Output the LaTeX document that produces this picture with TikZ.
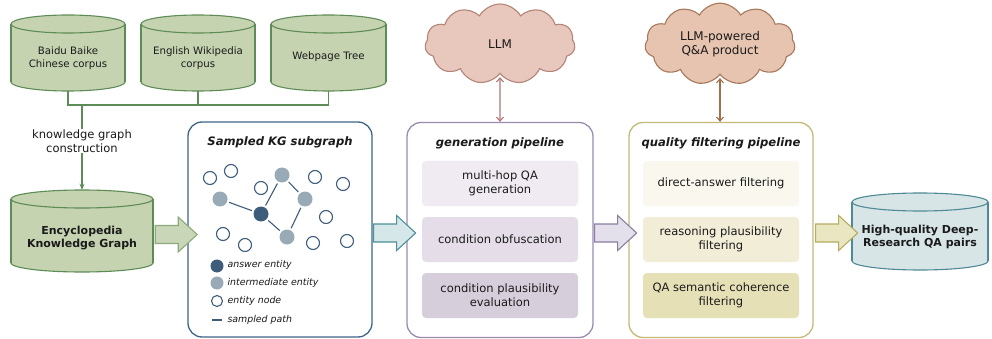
\documentclass[tikz,border=0pt]{standalone}
\usepackage{fontspec}
\setmainfont{DejaVu Sans}
\usetikzlibrary{shapes.symbols,arrows.meta,calc}
\definecolor{cylfill}{HTML}{C6D3B1}
\definecolor{cyldraw}{HTML}{5E8C56}
\definecolor{kgarrf}{HTML}{C9D6B8}
\definecolor{kgarrd}{HTML}{8DAA7C}
\definecolor{subdraw}{HTML}{3F6585}
\definecolor{tealf}{HTML}{D5E7E9}
\definecolor{teald}{HTML}{4F8F99}
\definecolor{gendraw}{HTML}{9A8CB0}
\definecolor{purpf}{HTML}{E3DFEB}
\definecolor{purpd}{HTML}{8B7EA0}
\definecolor{qualdraw}{HTML}{C2BA76}
\definecolor{olivef}{HTML}{EBE6C2}
\definecolor{olived}{HTML}{B5AC60}
\definecolor{finf}{HTML}{D8E5E7}
\definecolor{find}{HTML}{4D8A95}
\definecolor{llmf}{HTML}{E8C7BC}
\definecolor{llmd}{HTML}{B58478}
\definecolor{prodf}{HTML}{E6C4AF}
\definecolor{prodd}{HTML}{A9785C}
\definecolor{llmarr}{HTML}{B27575}
\definecolor{prodarr}{HTML}{A46F4F}
\definecolor{ansc}{HTML}{3E5D7A}
\definecolor{intc}{HTML}{97AAB5}
\definecolor{g1}{HTML}{F0EBF2}
\definecolor{g2}{HTML}{E5DEE9}
\definecolor{g3}{HTML}{D7CEDC}
\definecolor{q1}{HTML}{FAF8EE}
\definecolor{q2}{HTML}{F2EDD6}
\definecolor{q3}{HTML}{E6E0B7}
\definecolor{txt}{HTML}{1A1A1A}
\newcommand{\drawcyl}[6]{%
  \pgfmathsetmacro{\cylcx}{(#1+#3)/2}%
  \pgfmathsetmacro{\cylrx}{(#3-#1)/2}%
  \pgfmathsetmacro{\cylta}{#2+9}%
  \pgfmathsetmacro{\cyltb}{#4-9}%
  \fill[#5] (#1,\cylta) rectangle (#3,\cyltb);
  \filldraw[fill=#5,draw=#6,line width=1.1pt] (\cylcx,\cyltb) ellipse[x radius=\cylrx,y radius=9];
  \fill[#5] (#1,\cylta) rectangle (#3,\cyltb);
  \draw[#6,line width=1.1pt] (#1,\cylta) -- (#1,\cyltb) (#3,\cylta) -- (#3,\cyltb);
  \filldraw[fill=#5,draw=#6,line width=1.1pt] (\cylcx,\cylta) ellipse[x radius=\cylrx,y radius=9];
}
\tikzset{
  barrow/.pic={\path[pic actions] (0,-9) -- (23,-9) -- (23,-17.5) -- (42,0) -- (23,17.5) -- (23,9) -- (0,9) -- cycle;},
  cyltext/.style={align=center,text=txt,font=\fontsize{10.2}{12.5}\selectfont},
  cylbold/.style={align=center,text=txt,font=\fontsize{11}{13.5}\selectfont\bfseries},
  area/.style={inner sep=0pt,minimum width=#1},
  bigbox/.style={rounded corners=14pt,line width=1.3pt,fill=white,inner sep=0pt},
  innerbox/.style={rounded corners=4pt,minimum width=156pt,minimum height=45pt,align=center,text=txt,font=\fontsize{11.5}{14}\selectfont,inner sep=0pt},
  boxtitle/.style={text=txt,font=\fontsize{11.6}{13}\selectfont\bfseries\itshape},
  gline/.style={cyldraw,line width=1.2pt},
  emptyn/.style={circle,draw=ansc,fill=white,line width=1.1pt,minimum size=13pt,inner sep=0pt},
  intn/.style={circle,fill=intc,minimum size=15pt,inner sep=0pt},
  ansn/.style={circle,fill=ansc,minimum size=15pt,inner sep=0pt},
  legtext/.style={anchor=west,text=txt,font=\fontsize{9.4}{11}\selectfont\itshape},
  dbl/.style={{Straight Barb[length=4pt,width=7pt]}-{Straight Barb[length=4pt,width=7pt]},line width=1.1pt,shorten <=3pt},
  cloudn/.style={cloud,cloud puffs=11,cloud puff arc=120,aspect=1.9,minimum width=150pt,minimum height=80pt,line width=1.1pt,align=center,text=txt,font=\fontsize{12}{14}\selectfont}
}
\begin{document}
\begin{tikzpicture}[x=1pt,y=-1pt]
\useasboundingbox[fill=white] (0,0) rectangle (992,339);
% top cylinders
\drawcyl{11}{15}{125}{91}{cylfill}{cyldraw}
\drawcyl{141}{15}{255}{91}{cylfill}{cyldraw}
\drawcyl{271}{15}{386}{91}{cylfill}{cyldraw}
\node[area=114pt,minimum height=76pt] (baidu) at (68,53) {};
\node[area=114pt,minimum height=76pt] (wiki) at (198,53) {};
\node[area=115pt,minimum height=76pt] (web) at (328.5,53) {};
\node[cyltext] (baidut) at (68,58) {Baidu Baike\\Chinese corpus};
\node[cyltext] (wikit) at (198,58) {English Wikipedia\\corpus};
\node[cyltext] (webt) at (328.5,57) {Webpage Tree};
% KG cylinder
\drawcyl{11}{190}{153}{272}{cylfill}{cyldraw}
\node[area=142pt,minimum height=82pt] (kg) at (82,231) {};
\node[cylbold] (kgt) at (82,238) {Encyclopedia\\Knowledge Graph};
% connectors
\coordinate (junc) at (82,105);
\draw[gline] (baidu.south) -- (baidu.south |- junc) -- (web.south |- junc) -- (web.south);
\draw[gline] (wiki.south) -- (wiki.south |- junc);
\draw[gline,-{Stealth[length=6pt,width=5pt]}] (junc) -- (kg.north);
\node[fill=white,inner sep=1pt,align=center,text=txt,font=\fontsize{11.5}{13.5}\selectfont] (kgc) at (82,141) {knowledge graph\\construction};
% subgraph box
\node[bigbox,draw=subdraw,minimum width=184pt,minimum height=215pt] (sub) at (280,229.5) {};
\node[boxtitle] (subt) at (280,142) {Sampled KG subgraph};
\node[emptyn] (e1) at (210,178) {};
\node[emptyn] (e2) at (231,171) {};
\node[emptyn] (e3) at (261,188) {};
\node[emptyn] (e4) at (315,177) {};
\node[emptyn] (e5) at (343,184) {};
\node[emptyn] (e6) at (326,217) {};
\node[emptyn] (e7) at (223,234) {};
\node[emptyn] (e8) at (245,245) {};
\node[emptyn] (e9) at (313,243) {};
\node[emptyn] (e10) at (347,241) {};
\node[intn] (i1) at (220,199) {};
\node[intn] (i2) at (282,175) {};
\node[intn] (i3) at (305,199) {};
\node[intn] (i4) at (287,237) {};
\node[ansn] (a) at (261,214) {};
\draw[ansc,line width=1.1pt,shorten <=2pt,shorten >=2pt] (i1) -- (a);
\draw[ansc,line width=1.1pt,shorten <=2pt,shorten >=2pt] (a) -- (i2);
\draw[ansc,line width=1.1pt,shorten <=2pt,shorten >=2pt] (i2) -- (i3);
\draw[ansc,line width=1.1pt,shorten <=2pt,shorten >=2pt] (i3) -- (i4);
\draw[ansc,line width=1.1pt,shorten <=2pt,shorten >=2pt] (i4) -- (a);
% legend
\node[ansn,minimum size=13pt] (la) at (217,266) {};
\node[intn,minimum size=13pt] (li) at (217,283) {};
\node[emptyn,minimum size=11pt] (le) at (217,301) {};
\coordinate (lp1) at (212,320);
\coordinate (lp2) at (222,320);
\draw[ansc,line width=1.1pt] (lp1) -- (lp2);
\node[legtext] (lat) at (224,265) {answer entity};
\node[legtext] (lit) at (224,283) {intermediate entity};
\node[legtext] (let) at (224,301) {entity node};
\node[legtext] (lpt) at (224,320) {sampled path};
% generation box
\node[bigbox,draw=gendraw,minimum width=186pt,minimum height=215pt] (gen) at (500,230) {};
\node[boxtitle] (gent) at (500,143) {generation pipeline};
\node[innerbox,fill=g1] (gb1) at (500,183.5) {multi-hop QA\\generation};
\node[innerbox,fill=g2] (gb2) at (500,239.5) {condition obfuscation};
\node[innerbox,fill=g3] (gb3) at (500,295.5) {condition plausibility\\evaluation};
% quality box
\node[bigbox,draw=qualdraw,minimum width=184pt,minimum height=215pt] (qual) at (721,230) {};
\node[boxtitle] (qualt) at (721,143) {quality filtering pipeline};
\node[innerbox,fill=q1] (qb1) at (721,183.5) {direct-answer filtering};
\node[innerbox,fill=q2] (qb2) at (721,239.5) {reasoning plausibility\\filtering};
\node[innerbox,fill=q3] (qb3) at (721,295.5) {QA semantic coherence\\filtering};
% final cylinder
\drawcyl{852}{193}{988}{270}{finf}{find}
\node[area=136pt,minimum height=77pt] (fin) at (920,231.5) {};
\node[cylbold] (fint) at (920,237) {High-quality Deep-\\Research QA pairs};
% clouds
\node[cloudn,fill=llmf,draw=llmd] (llm) at (500,44) {LLM};
\node[cloudn,fill=prodf,draw=prodd] (prod) at (720,44) {LLM-powered\\Q\&A product};
\draw[dbl,llmarr] (llm.south) -- (gen.north);
\draw[dbl,prodarr] (prod.south) -- (qual.north -| prod.south);
% block arrows
\pic[fill=kgarrf,draw=kgarrd,line width=1.1pt] at ($(kg.east)+(2,3.5)$) {barrow};
\pic[fill=tealf,draw=teald,line width=1.1pt] at ($(sub.east)+(1,3.5)$) {barrow};
\pic[fill=purpf,draw=purpd,line width=1.1pt] at ($(gen.east)+(1,3)$) {barrow};
\pic[fill=olivef,draw=olived,line width=1.1pt] at ($(qual.east)+(2,3)$) {barrow};
\end{tikzpicture}
\end{document}
